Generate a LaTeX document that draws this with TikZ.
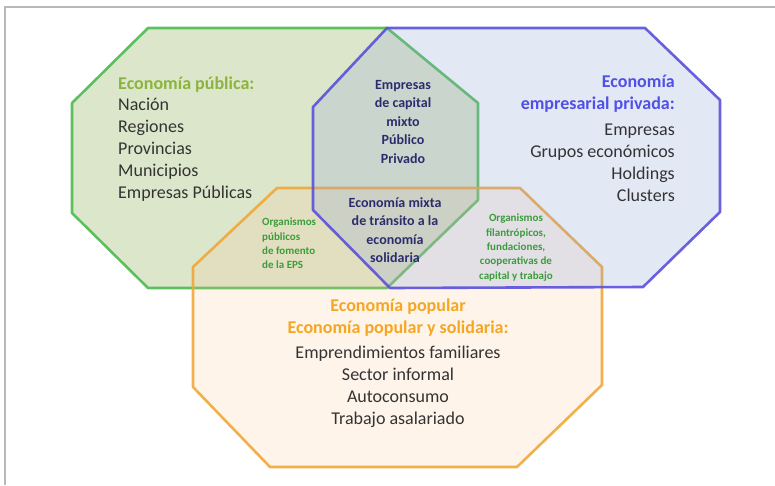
\documentclass[tikz,border=0pt]{standalone}
\usepackage{fontspec}
\setmainfont{Carlito}
\usetikzlibrary{positioning}

\definecolor{publine}{HTML}{4CBB50}
\definecolor{pubfill}{HTML}{9CB86A}
\definecolor{pubtitle}{HTML}{8CB43C}
\definecolor{privline}{HTML}{5A50DC}
\definecolor{privfill}{HTML}{8FA3D6}
\definecolor{privtitle}{HTML}{5050E6}
\definecolor{popline}{HTML}{F0A838}
\definecolor{popfill}{HTML}{F8C08A}
\definecolor{poptitle}{HTML}{F5A623}
\definecolor{mixnavy}{HTML}{2C2C6C}
\definecolor{orggreen}{HTML}{3C9C3C}
\definecolor{textgrey}{HTML}{333333}

\begin{document}
\begin{tikzpicture}[x=1pt, y=-1pt, node distance=4pt]
\tikzstyle{zone}=[line width=2.6pt, line join=round, draw opacity=0.9]
\tikzstyle{bigtext}=[inner sep=0pt, text=textgrey, font=\fontsize{18}{22}\selectfont]
\tikzstyle{headtext}=[inner sep=0pt, font=\fontsize{18}{22}\selectfont\bfseries]
\tikzstyle{mixtext}=[inner sep=0pt, align=center, text=mixnavy, font=\fontsize{14}{18.5}\selectfont\bfseries]
\tikzstyle{orgtext}=[inner sep=0pt, text=orggreen, font=\fontsize{11}{14.3}\selectfont\bfseries]
\useasboundingbox (0,0) rectangle (775,485);
% frame
\draw[gray!55, line width=1.2pt] (5,485) -- (5,7) -- (775,7);
% the three economies
\draw[zone, draw=publine, fill=pubfill, fill opacity=0.35]
  (148,28) -- (387,28) -- (478,103) -- (478,200) -- (387,288) -- (148,288) -- (72,213) -- (72,103) -- cycle;
\draw[zone, draw=popline, fill=popfill, fill opacity=0.18]
  (277,188) -- (520,188) -- (602,267) -- (602,385) -- (517,467) -- (270,467) -- (193,387) -- (193,267) -- cycle;
\draw[zone, draw=privline, fill=privfill, fill opacity=0.25]
  (387,28) -- (645,28) -- (720,100) -- (720,212) -- (643,287) -- (390,288) -- (313,210) -- (313,107) -- cycle;
% economia publica
\node[headtext, text=pubtitle, anchor=base west] (pubhead) at (118,89) {Economía pública:};
\node[bigtext, align=left, below=6pt of pubhead.south west, anchor=north west] (publist)
  {Nación\\ Regiones\\ Provincias\\ Municipios\\ Empresas Públicas};
% economia empresarial privada
\node[headtext, text=privtitle, align=right, anchor=north east] (privhead) at (675,75)
  {Economía\\ empresarial privada:};
\node[bigtext, align=right, below=11pt of privhead.south east, anchor=north east] (privlist)
  {Empresas\\ Grupos económicos\\ Holdings\\ Clusters};
% economia popular
\node[headtext, text=poptitle, align=center, anchor=north] (pophead) at (398,299)
  {Economía popular\\ Economía popular y solidaria:};
\node[bigtext, align=center, below=9pt of pophead.south, anchor=north] (poplist)
  {Emprendimientos familiares\\ Sector informal\\ Autoconsumo\\ Trabajo asalariado};
% intersections
\node[mixtext, anchor=north] (mixcap) at (403,80) {Empresas\\ de capital\\ mixto\\ Público\\ Privado};
\node[mixtext, anchor=north] (mixsol) at (395,197) {Economía mixta\\ de tránsito a la\\ economía\\ solidaria};
\node[orgtext, align=left, anchor=north west] (orgpub) at (262,218)
  {Organismos\\ públicos\\ de fomento\\ de la EPS};
\node[orgtext, align=center, anchor=north] (orgpriv) at (516,214)
  {Organismos\\ filantrópicos,\\ fundaciones,\\ cooperativas de\\ capital y trabajo};
\end{tikzpicture}
\end{document}
